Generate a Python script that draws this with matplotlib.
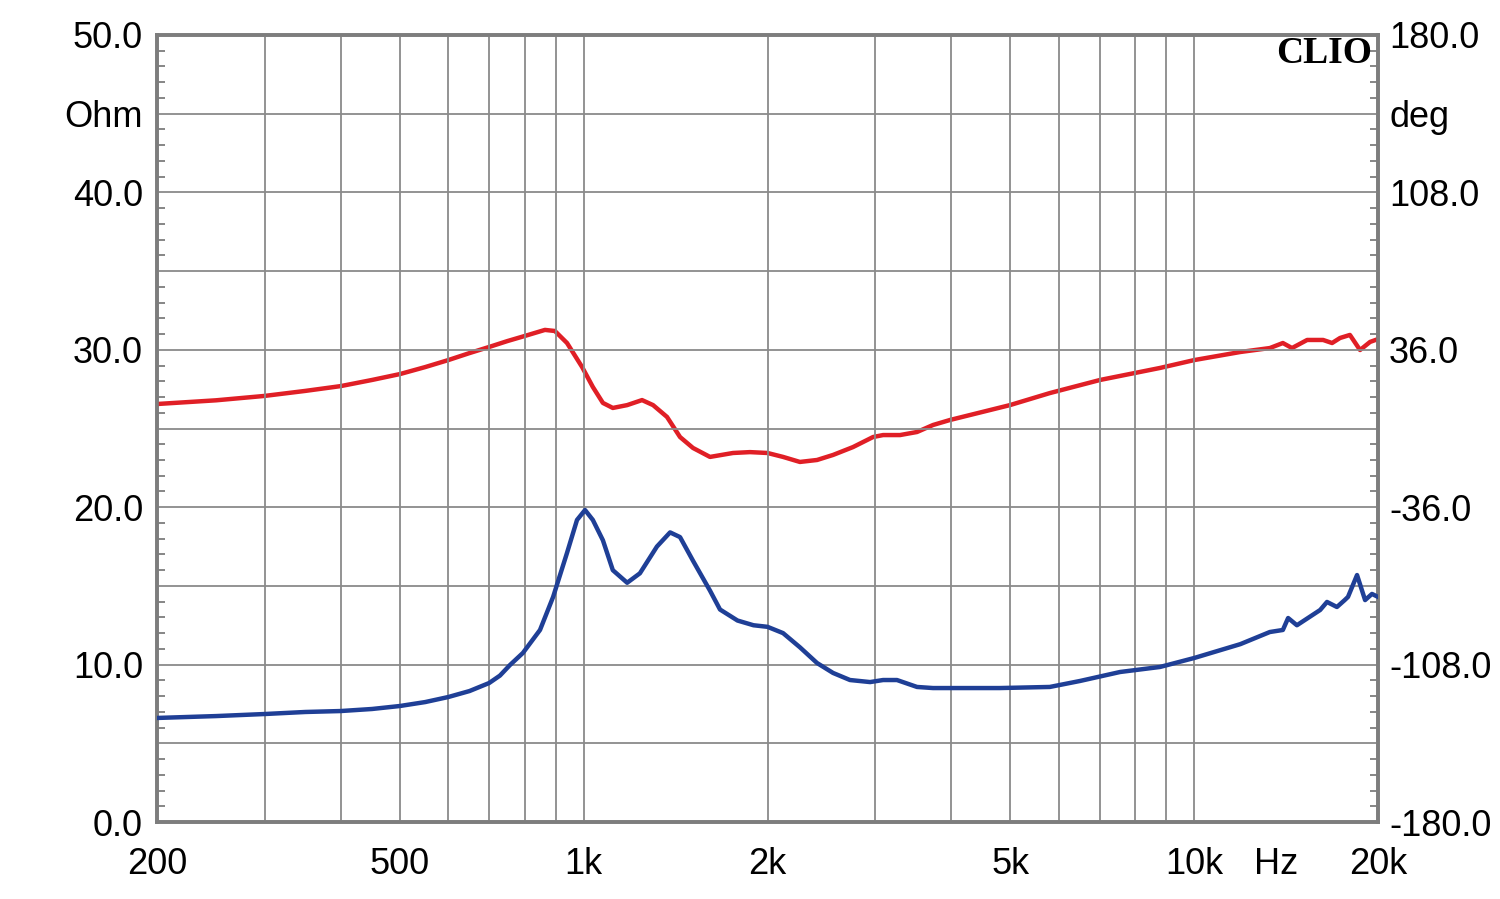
import matplotlib
matplotlib.use("Agg")
import matplotlib.pyplot as plt
from matplotlib.ticker import FixedLocator, NullLocator

plt.rcParams['font.family'] = ['Liberation Sans', 'DejaVu Sans']

# Impedance magnitude (Ohm, left axis)
imp_freq = [200, 250, 300, 350, 400, 450, 500, 550, 600, 650, 700, 729, 757, 795,
            848, 891, 939, 975, 1005, 1035, 1075, 1116, 1178, 1236, 1318, 1385,
            1438, 1510, 1610, 1672, 1786, 1897, 2000, 2121, 2260, 2411, 2561, 2730,
            2945, 3093, 3259, 3515, 3734, 4000, 4800, 5800, 6500, 7560, 8790, 10000,
            11900, 13300, 13970, 14250, 14730, 16080, 16500, 17130, 17640, 17860,
            18480, 19050, 19550, 20000]
imp_ohm = [6.61, 6.73, 6.86, 6.99, 7.05, 7.18, 7.37, 7.62, 7.94, 8.32, 8.83, 9.3,
           9.97, 10.74, 12.2, 14.3, 17.1, 19.19, 19.82, 19.19, 17.9, 16.0, 15.2,
           15.8, 17.5, 18.4, 18.1, 16.6, 14.7, 13.5, 12.8, 12.5, 12.4, 12.0, 11.1,
           10.1, 9.47, 9.02, 8.89, 9.02, 9.02, 8.58, 8.51, 8.51, 8.51, 8.58, 8.96,
           9.53, 9.85, 10.42, 11.3, 12.07, 12.2, 12.96, 12.5, 13.47, 13.98, 13.66,
           14.1, 14.3, 15.69, 14.1, 14.49, 14.3]

# Impedance phase (deg, right axis)
ph_freq = [200, 250, 300, 350, 400, 450, 500, 550, 600, 650, 700, 750, 800, 864,
           897, 939, 994, 1035, 1075, 1116, 1178, 1246, 1299, 1369, 1438, 1510,
           1610, 1756, 1872, 2000, 2121, 2260, 2411, 2561, 2761, 2978, 3093, 3297,
           3515, 3734, 3981, 4990, 5800, 7010, 8790, 10000, 11900, 13300, 13970,
           14460, 15310, 16260, 16820, 17330, 17990, 18690, 19410, 20000]
ph_deg = [11.2, 12.9, 14.9, 17.2, 19.4, 22.2, 24.9, 28.1, 31.3, 34.5, 37.3, 40.0,
          42.3, 45.1, 44.6, 39.1, 28.1, 19.0, 11.7, 9.4, 10.7, 13.0, 10.7, 5.3,
          -3.9, -8.9, -13.0, -11.2, -10.8, -11.2, -13.0, -15.3, -14.4, -12.1, -8.5,
          -3.9, -3.0, -3.0, -1.6, 1.6, 3.9, 10.7, 16.2, 22.2, 27.7, 31.3, 35.0,
          36.8, 39.1, 36.8, 40.5, 40.5, 39.1, 41.4, 42.8, 35.9, 39.6, 40.9]

x_ticks = [200, 500, 1000, 2000, 5000, 10000, 13600, 20000]
x_labels = ['200', '500', '1k', '2k', '5k', '10k', 'Hz', '20k']
x_grid = [300, 400, 500, 600, 700, 800, 900, 1000, 2000, 3000, 4000, 5000,
          6000, 7000, 8000, 9000, 10000]
left_ticks = [0, 10, 20, 30, 40, 45, 50]
left_labels = ['0.0', '10.0', '20.0', '30.0', '40.0', 'Ohm', '50.0']
right_ticks = [-180, -108, -36, 36, 108, 144, 180]
right_labels = ['-180.0', '-108.0', '-36.0', '36.0', '108.0', 'deg', '180.0']
y_grid = [5, 10, 15, 20, 25, 30, 35, 40, 45]

RED = '#e01f26'
BLUE = '#1f3f96'
GRID = '#8a8a8a'
SPINE = '#7d7d7d'

fig = plt.figure(figsize=(15, 8.99), dpi=100)
ax = fig.add_axes([157/1500, 77/899, 1221/1500, 787/899])
ax.set_xscale('log')
ax.set_xlim(200, 20000)
ax.set_ylim(0, 50)

for g in x_grid:
    ax.axvline(g, color=GRID, lw=1.3, zorder=1)
for g in y_grid:
    ax.axhline(g, color=GRID, lw=1.3, zorder=1)

ax2 = ax.twinx()
ax2.set_ylim(-180, 180)
ax2.set_xlim(200, 20000)

ax2.plot(ph_freq, ph_deg, color=RED, lw=3.2, zorder=3)
ax.plot(imp_freq, imp_ohm, color=BLUE, lw=3.2, zorder=3)
ax.set_zorder(ax2.get_zorder() + 1)
ax.patch.set_visible(False)

# x ticks
ax.xaxis.set_major_locator(FixedLocator(x_ticks))
ax.set_xticklabels(x_labels)
ax.xaxis.set_minor_locator(NullLocator())
ax.tick_params(axis='x', which='major', length=0, pad=18, labelsize=26)

# left y
ax.set_yticks(left_ticks)
ax.set_yticklabels(left_labels)
ax.yaxis.set_minor_locator(FixedLocator([v for v in range(1, 50) if v % 5 != 0]))
ax.tick_params(axis='y', which='major', length=0, pad=10, labelsize=26)
ax.tick_params(axis='y', which='minor', direction='in', length=6, width=1.3,
               color=SPINE)

# right y
ax2.set_yticks(right_ticks)
ax2.set_yticklabels(right_labels)
ax2.yaxis.set_minor_locator(FixedLocator([-180 + 7.2 * v for v in range(1, 50) if v % 5 != 0]))
ax2.tick_params(axis='y', which='major', length=0, pad=8, labelsize=26)
ax2.tick_params(axis='y', which='minor', direction='in', length=6, width=1.3,
                color=SPINE)
ax2.xaxis.set_visible(False)

for a in (ax, ax2):
    for s in a.spines.values():
        s.set_color(SPINE)
        s.set_linewidth(2.6)

ax.text(0.995, 0.977, 'CLIO', transform=ax.transAxes, ha='right', va='center',
        fontsize=27, fontweight='bold', family=['Liberation Serif', 'DejaVu Serif'],
        zorder=5)

fig.savefig('out.png', dpi=100)
